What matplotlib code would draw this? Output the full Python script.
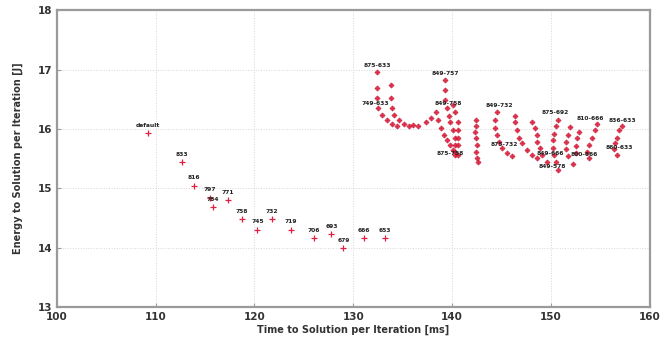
import matplotlib
matplotlib.use("Agg")
import matplotlib.pyplot as plt

# left branch: single-frequency settings
left_time = [109.2, 112.7, 113.9, 115.5, 115.8, 117.3, 118.7, 120.3, 121.8,
             123.7, 126.0, 127.8, 129.0, 131.1, 133.2]
left_energy = [15.93, 15.44, 15.04, 14.84, 14.68, 14.80, 14.48, 14.30, 14.48,
               14.30, 14.16, 14.23, 13.99, 14.16, 14.16]
left_labels = ["default", "833", "816", "797", "784", "771", "758", "745", "732",
               "719", "706", "693", "679", "666", "653"]

# right cluster: core-memory frequency sweeps
sweep_time = [
    [132.4, 132.4, 132.4, 132.5, 132.9, 133.4, 133.9, 134.4],
    [133.8, 133.8, 133.9, 134.1, 134.6, 135.1, 135.6, 136.1],
    [136.6, 137.4, 137.9, 138.4],
    [139.3, 139.3, 139.3, 139.5, 139.7, 139.8, 140.1, 140.3, 140.3, 140.3],
    [138.6, 138.9, 139.2, 139.5, 139.8, 140.1, 140.3],
    [140.1, 140.3, 140.6, 140.6, 140.6, 140.6, 140.6],
    [142.4, 142.4, 142.3, 142.4, 142.5, 142.4, 142.5, 142.6],
    [144.6, 144.4, 144.4, 144.6, 144.8, 145.1, 145.6, 146.1],
    [146.4, 146.4, 146.6, 146.8, 147.1, 147.6, 148.1, 148.6],
    [148.1, 148.4, 148.6, 148.6, 148.9, 149.1, 149.6],
    [150.7, 150.5, 150.3, 150.2, 150.2, 150.3, 150.5, 150.7],
    [151.9, 151.7, 151.5, 151.5, 151.7, 152.2],
    [152.9, 152.7, 152.5, 152.6],
    [154.7, 154.5, 154.2, 153.9, 153.7, 153.9],
    [157.2, 156.9, 156.7, 156.5, 156.4, 156.7],
]
sweep_energy = [
    [16.96, 16.69, 16.52, 16.35, 16.23, 16.15, 16.08, 16.05],
    [16.74, 16.52, 16.35, 16.23, 16.15, 16.08, 16.05, 16.06],
    [16.05, 16.11, 16.18, 16.28],
    [16.82, 16.65, 16.48, 16.35, 16.22, 16.11, 15.98, 15.85, 15.73, 15.61],
    [16.15, 16.01, 15.90, 15.81, 15.73, 15.64, 15.56],
    [16.40, 16.28, 16.11, 15.98, 15.85, 15.73, 15.56],
    [16.15, 16.05, 15.95, 15.85, 15.73, 15.61, 15.51, 15.44],
    [16.28, 16.15, 16.01, 15.90, 15.78, 15.68, 15.59, 15.54],
    [16.22, 16.11, 15.98, 15.85, 15.76, 15.64, 15.56, 15.51],
    [16.11, 16.01, 15.90, 15.78, 15.68, 15.56, 15.44],
    [16.15, 16.05, 15.92, 15.81, 15.68, 15.56, 15.44, 15.31],
    [16.03, 15.90, 15.78, 15.66, 15.54, 15.41],
    [15.95, 15.85, 15.72, 15.60],
    [16.08, 15.98, 15.85, 15.73, 15.61, 15.51],
    [16.05, 15.98, 15.85, 15.76, 15.66, 15.56],
]

pair_labels = ["875-633", "849-757", "749-633", "849-758", "875-758", "849-732",
               "875-732", "875-692", "810-666", "836-633", "849-666", "849-578",
               "800-666", "860-633"]
pair_time = [132.4, 139.3, 132.2, 139.6, 139.8, 144.8, 145.3, 150.5, 154.0,
             157.2, 150.0, 150.2, 153.4, 156.9]
pair_energy = [17.06, 16.94, 16.42, 16.43, 15.59, 16.40, 15.73, 16.27, 16.18,
               16.15, 15.59, 15.36, 15.57, 15.68]

fig = plt.figure(figsize=(6.69, 3.49), dpi=100)
ax = fig.add_axes([0.085, 0.12, 0.886, 0.851])

for t, e in zip(sweep_time, sweep_energy):
    ax.plot(t, e, linestyle="none", marker="o", markersize=2.8,
            markerfacecolor="#e8304a", markeredgecolor="#c0102c", markeredgewidth=0.5, alpha=0.85)
    ax.plot(t, e, linestyle="none", marker="+", markersize=4,
            color="#d01030", markeredgewidth=0.6, alpha=0.6)

ax.plot(left_time, left_energy, linestyle="none", marker="+", markersize=4,
        color="#e02040", markeredgewidth=0.9)

for t, e, lab in zip(left_time, left_energy, left_labels):
    ax.annotate(lab, (t, e), xytext=(0, 4), textcoords="offset points",
                ha="center", va="bottom", fontsize=4.3, fontweight="bold", color="#222222")

for t, e, lab in zip(pair_time, pair_energy, pair_labels):
    ax.text(t, e, lab, ha="center", va="center", fontsize=4.3,
            fontweight="bold", color="#222222")

ax.set_xlim(100, 160)
ax.set_ylim(13, 18)
ax.set_xticks(range(100, 161, 10))
ax.set_yticks(range(13, 19))
ax.grid(True, linestyle=":", color="#d6d6d6", linewidth=0.7)
ax.tick_params(direction="in", length=3, color="#999999", labelsize=7.5, labelcolor="#333333")
for lab in ax.get_xticklabels() + ax.get_yticklabels():
    lab.set_fontweight("bold")
for sp in ax.spines.values():
    sp.set_color("#9a9a9a")
    sp.set_linewidth(1.6)

ax.set_xlabel("Time to Solution per Iteration [ms]", fontsize=7, fontweight="bold",
              color="#333333", labelpad=2)
ax.set_ylabel("Energy to Solution per Iteration [J]", fontsize=7, fontweight="bold",
              color="#333333", labelpad=10)

fig.savefig("out.png", dpi=100)
